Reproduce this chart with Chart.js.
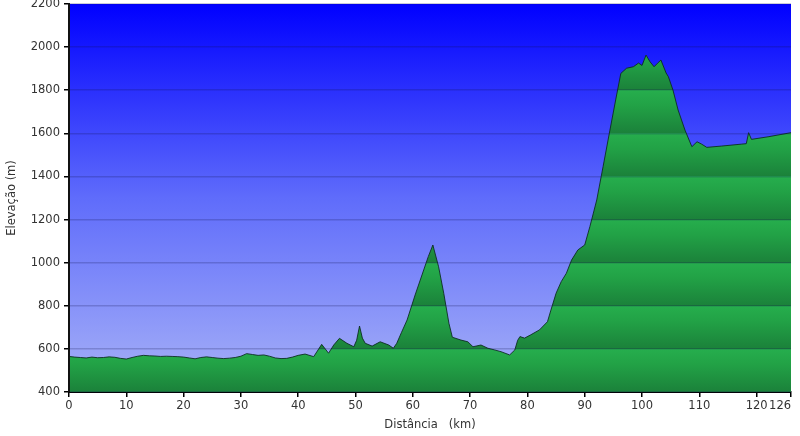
<!DOCTYPE html>
<html lang="pt">
<head>
  <meta charset="UTF-8" />
  <title>Perfil de Elevação</title>
  <style>
    * { margin: 0; padding: 0; box-sizing: border-box; }
    html, body { width: 800px; height: 436px; background: #fff; overflow: hidden; }
    canvas { display: block; }
  </style>
</head>
<body>
  <canvas id="profileChart" width="800" height="436"></canvas>

  <script src="https://cdn.jsdelivr.net/npm/chart.js"></script>
  <script>
    const distKm = [
      0, 1, 2, 3, 4, 5, 6, 7, 8, 9, 10, 11, 12, 13, 14, 15, 16, 17, 18, 19,
      20, 21, 22, 23, 24, 25, 26, 27, 28, 29, 30, 31, 32, 33, 34, 35, 36, 37, 38, 39,
      40, 41.2, 42.7, 44.1, 45.3, 46.2, 47.2, 48.5, 49.7, 50.2, 50.7, 51.2, 51.7, 52.9,
      54.3, 55.8, 56.6, 57.2, 58.0, 59.0, 60.4, 61.9, 62.7, 63.5, 64.5, 65.4, 66.3, 66.9,
      68.4, 69.6, 70.5, 71.9, 73.1, 74.3, 75.4, 76.9, 77.8, 78.3, 78.7, 79.5, 80.5, 82.1,
      83.5, 84.1, 85.0, 85.9, 86.8, 87.7, 88.8, 90.0, 90.9, 92.1, 93.2, 94.4, 95.4, 96.3,
      97.3, 98.5, 99.4, 100.0, 100.7, 101.4, 102.1, 102.7, 103.3, 104.2, 104.6, 105.4,
      106.3, 107.5, 108.7, 109.6, 110.4, 111.3, 113.9, 117.4, 118.2, 118.6, 119.1, 122.0, 126
    ];
    const elevM = [
      565, 562, 560, 558, 562, 559, 560, 563, 561, 556, 553, 560, 566, 570, 568, 567, 565, 566, 565, 564,
      562, 558, 554, 560, 563, 560, 557, 555, 557, 560, 566, 578, 574, 570, 572, 566, 558, 555, 556, 562,
      570, 576, 564, 621, 580, 618, 649, 626, 610, 640, 706, 650, 626, 613,
      633, 618, 603, 626, 675, 734, 850, 966, 1028, 1082, 981, 858, 719, 654,
      641, 633, 610, 618, 603, 595, 587, 572, 595, 640, 657, 650, 664, 688,
      726, 780, 858, 912, 951, 1012, 1059, 1082, 1167, 1291, 1445, 1615, 1755, 1878,
      1902, 1909, 1926, 1915, 1963, 1932, 1909, 1925, 1940, 1880, 1863, 1801,
      1708, 1615, 1538, 1561, 1550, 1535, 1541, 1550, 1552, 1603, 1572, 1584, 1603
    ];
    const xTicks = [0, 10, 20, 30, 40, 50, 60, 70, 80, 90, 100, 110, 120, 126];
    const yMin = 400, yMax = 2200, yStep = 200;

    const fontFamily = "'DejaVu Sans', Verdana, sans-serif";

    // verde em faixas: claro logo abaixo de cada linha, escuro em cima da próxima
    function greenBands(context) {
      const chart = context.chart;
      const area = chart.chartArea;
      const y = chart.scales.y;
      if (!area || !y) return '#22a84a';
      const h = area.bottom - area.top;
      const g = chart.ctx.createLinearGradient(0, area.top, 0, area.bottom);
      const clamp = t => Math.min(1, Math.max(0, t));
      for (let v = yMax; v > yMin; v -= yStep) {
        const t0 = clamp((y.getPixelForValue(v) - area.top) / h);
        const t1 = clamp((y.getPixelForValue(v - yStep) - area.top) / h);
        g.addColorStop(t0, '#26ae4d');
        g.addColorStop(t0 + (t1 - t0) * 0.35, '#22a246');
        g.addColorStop(t1, '#1b813a');
      }
      return g;
    }

    const skyPlugin = {
      id: 'sky',
      beforeDraw(chart) {
        const { ctx, chartArea: a } = chart;
        const g = ctx.createLinearGradient(0, a.top, 0, a.bottom);
        g.addColorStop(0, '#0000ff');
        g.addColorStop(0.5, '#5f6cfb');
        g.addColorStop(1, '#a8b2f7');
        ctx.save();
        ctx.fillStyle = g;
        ctx.fillRect(a.left, a.top, a.right - a.left, a.bottom - a.top);
        ctx.restore();
      }
    };

    const ctx = document.getElementById('profileChart').getContext('2d');
    new Chart(ctx, {
      type: 'line',
      data: {
        datasets: [{
          data: distKm.map((d, i) => ({ x: d, y: elevM[i] })),
          fill: 'start',
          backgroundColor: greenBands,
          borderColor: 'rgba(10, 40, 30, 0.85)',
          borderWidth: 1,
          pointRadius: 0,
          tension: 0
        }]
      },
      options: {
        responsive: false,
        animation: false,
        devicePixelRatio: 1,
        layout: { autoPadding: false, padding: { top: 4, right: 9, left: 0, bottom: 0 } },
        plugins: { legend: { display: false }, tooltip: { enabled: false } },
        scales: {
          x: {
            type: 'linear',
            min: 0,
            max: 126,
            afterBuildTicks: scale => { scale.ticks = xTicks.map(v => ({ value: v })); },
            afterFit: scale => {
              scale.height = 44;
              scale.paddingLeft = 0;
              scale.paddingRight = 0;
            },
            ticks: {
              autoSkip: false,
              maxRotation: 0,
              padding: 2,
              color: '#333',
              font: { family: fontFamily, size: 11.5 },
              callback: v => v === 126 ? '126      ' : String(v)
            },
            grid: { drawOnChartArea: false, drawTicks: true, tickLength: 5, color: '#000', lineWidth: 1.5 },
            border: { display: true, color: '#000', width: 2 },
            title: {
              display: true,
              text: 'Distância   (km)',
              color: '#333',
              font: { family: fontFamily, size: 11.5 },
              padding: { top: 0, bottom: 4 }
            }
          },
          y: {
            min: yMin,
            max: yMax,
            afterFit: scale => {
              scale.width = 69;
              scale.paddingTop = 0;
              scale.paddingBottom = 0;
            },
            ticks: {
              stepSize: yStep,
              autoSkip: false,
              padding: 4,
              color: '#333',
              font: { family: fontFamily, size: 11.5 },
              callback: v => String(v)
            },
            grid: {
              z: 1,
              color: 'rgba(20, 20, 80, 0.22)',
              lineWidth: 1.5,
              tickColor: '#000',
              tickLength: 5
            },
            border: { display: true, color: '#111', width: 2, z: 2 },
            title: {
              display: true,
              text: 'Elevação (m)',
              color: '#333',
              font: { family: fontFamily, size: 11.5 },
              padding: { top: 5, bottom: 0 }
            }
          }
        }
      },
      plugins: [skyPlugin]
    });
  </script>
</body>
</html>
